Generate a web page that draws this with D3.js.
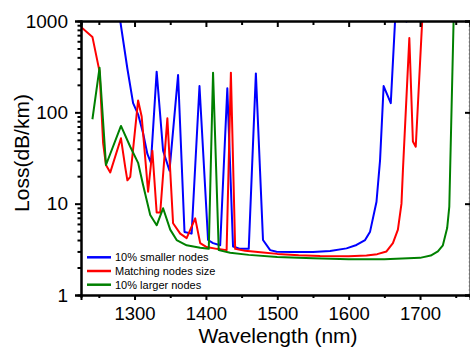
<!DOCTYPE html>
<html>
<head>
<meta charset="utf-8">
<script src="https://cdn.jsdelivr.net/npm/d3@7"></script>
<style>
  body { margin: 0; background: #fff; }
  svg { display: block; font-family: "Liberation Sans", Arial, sans-serif; }
</style>
</head>
<body>
<svg id="chart"></svg>
<script>
// wavelength (nm), loss (dB/km)
const smallerNodes = [
  [1280, 1000], [1290, 300], [1298, 126], [1305, 95], [1312, 59], [1318, 35], [1323, 28],
  [1331, 279], [1340, 38], [1349, 23], [1361, 256], [1370, 4.9], [1380, 4.7],
  [1391, 194], [1403, 4.0], [1410, 3.7], [1420, 3.5], [1430, 183], [1438, 3.4],
  [1448, 3.2], [1460, 3.2], [1470, 267], [1480, 4.0], [1490, 3.1], [1499, 2.98],
  [1520, 2.95], [1550, 2.95], [1574, 3.03], [1597, 3.24], [1611, 3.53], [1623, 4.0],
  [1630, 4.94], [1639, 10.5], [1644, 30], [1649, 194], [1659, 126], [1665, 1000],
  [1673, 1400], [1681, 985], [1689, 1400]
];
const matchingNodes = [
  [1225, 860], [1241, 670], [1251, 279], [1256, 46], [1260, 26.5], [1266, 22],
  [1281, 52], [1287, 25], [1290, 18], [1294, 19.6], [1305, 135], [1310, 90],
  [1319, 13.5], [1325, 38], [1331, 8], [1336, 8], [1346, 86], [1354, 6.1],
  [1364, 4.7], [1373, 4.2], [1385, 6.9], [1392, 3.7], [1401, 3.35], [1415, 3.2],
  [1429, 3.1], [1435, 272], [1441, 3.2], [1455, 3.05], [1480, 2.92], [1500, 2.82],
  [1530, 2.73], [1560, 2.68], [1600, 2.66], [1625, 2.7], [1640, 2.8], [1653, 3.0],
  [1662, 3.7], [1669, 5.2], [1674, 10], [1676, 23], [1685, 650], [1690, 48],
  [1694, 42], [1703, 1000]
];
const largerNodes = [
  [1241, 84], [1251, 308], [1260, 26.5], [1281, 71], [1294, 42], [1305, 28],
  [1312, 16], [1322, 7.5], [1331, 5.8], [1340, 8.9], [1350, 5.2], [1359, 4.0],
  [1373, 3.5], [1392, 3.3], [1404, 3.2], [1410, 272], [1418, 3.1], [1434, 2.9],
  [1460, 2.75], [1500, 2.6], [1550, 2.52], [1600, 2.47], [1650, 2.47], [1700, 2.55],
  [1715, 2.7], [1725, 3.0], [1732, 3.5], [1738, 5.4], [1741, 9.3], [1747, 1000]
];
const seriesNames = ["10% smaller nodes", "Matching nodes size", "10% larger nodes"];
const seriesColors = ["#0000ff", "#ff0000", "#008000"];
const xMajor = [1300, 1400, 1500, 1600, 1700];
const xMinor = [1250, 1350, 1450, 1550, 1650, 1750];
const yMajor = [1, 10, 100, 1000];

const W = 470, H = 347;
const margin = {top: 21, right: 0, bottom: 52, left: 81};
const width = W - margin.left - margin.right,
  height = H - margin.top - margin.bottom;

const svg = d3.select("#chart").attr("width", W).attr("height", H);
const g = svg.append("g").attr("transform", "translate(" + margin.left + "," + margin.top + ")");

const x = d3.scaleLinear().domain([1225, 1770]).range([0, width]);
const y = d3.scaleLog().domain([1, 1000]).range([height, 0]);

const yMinor = [];
[1, 10, 100].forEach(d => { for (let k = 2; k <= 9; k++) yMinor.push(d * k); });

g.append("clipPath").attr("id", "clip")
  .append("rect").attr("width", width).attr("height", height);

// faint dotted edge on the right
g.append("line")
  .attr("x1", width - 1).attr("x2", width - 1)
  .attr("y1", 0).attr("y2", height)
  .attr("stroke", "#ccc").attr("stroke-dasharray", "2,2");

const line = d3.line().x(d => x(d[0])).y(d => y(d[1]));

const plot = g.append("g").attr("clip-path", "url(#clip)");
[smallerNodes, matchingNodes, largerNodes].forEach((s, i) => {
  plot.append("path")
    .datum(s)
    .attr("fill", "none")
    .attr("stroke", seriesColors[i])
    .attr("stroke-width", 2)
    .attr("stroke-linejoin", "round")
    .attr("d", line);
});

function styleAxis(sel, size) {
  sel.select(".domain").attr("stroke", "#000").attr("stroke-width", 2);
  sel.selectAll(".tick line").attr("stroke", "#000").attr("stroke-width", 2);
  sel.selectAll("text").attr("fill", "#000").style("font-size", (size || 19) + "px")
    .style("font-family", "'Liberation Sans', Arial, sans-serif");
}

// bottom
g.append("g").attr("transform", "translate(0," + height + ")")
  .call(d3.axisBottom(x).tickValues(xMinor).tickSize(3).tickFormat(""))
  .call(styleAxis);
g.append("g").attr("transform", "translate(0," + height + ")")
  .call(d3.axisBottom(x).tickValues(xMajor).tickSize(5).tickPadding(6.5).tickFormat(d3.format("d")))
  .call(styleAxis, 18.5);

// top (ticks inward)
g.append("g")
  .call(d3.axisTop(x).tickValues(xMinor).tickSize(-4).tickFormat(""))
  .call(styleAxis);
g.append("g")
  .call(d3.axisTop(x).tickValues(xMajor).tickSize(-6).tickFormat(""))
  .call(styleAxis);

// left
g.append("g")
  .call(d3.axisLeft(y).tickValues(yMinor).tickSize(3.5).tickFormat(""))
  .call(styleAxis);
g.append("g")
  .call(d3.axisLeft(y).tickValues(yMajor).tickSize(6).tickPadding(7).tickFormat(d3.format("d")))
  .call(styleAxis);

// right (ticks inward)
g.append("g").attr("transform", "translate(" + width + ",0)")
  .call(d3.axisRight(y).tickValues(yMajor).tickSize(-5).tickFormat(""))
  .call(styleAxis);

// axis titles
svg.append("text")
  .attr("transform", "translate(28.5," + 153 + ") rotate(-90)")
  .attr("text-anchor", "middle")
  .style("font-size", "21px")
  .text("Loss(dB/km)");

svg.append("text")
  .attr("x", 278).attr("y", 342.8)
  .attr("text-anchor", "middle")
  .style("font-size", "21px")
  .text("Wavelength (nm)");

// legend
const legend = g.append("g").attr("transform", "translate(6," + (257.3 - margin.top) + ")");
seriesNames.forEach((name, i) => {
  const row = legend.append("g").attr("transform", "translate(0," + (i * 13.7) + ")");
  row.append("line").attr("x1", 0).attr("x2", 24)
    .attr("stroke", seriesColors[i]).attr("stroke-width", 2.5);
  row.append("text").attr("x", 28).attr("dy", "0.35em")
    .style("font-size", "11px").text(name);
});
</script>
</body>
</html>
